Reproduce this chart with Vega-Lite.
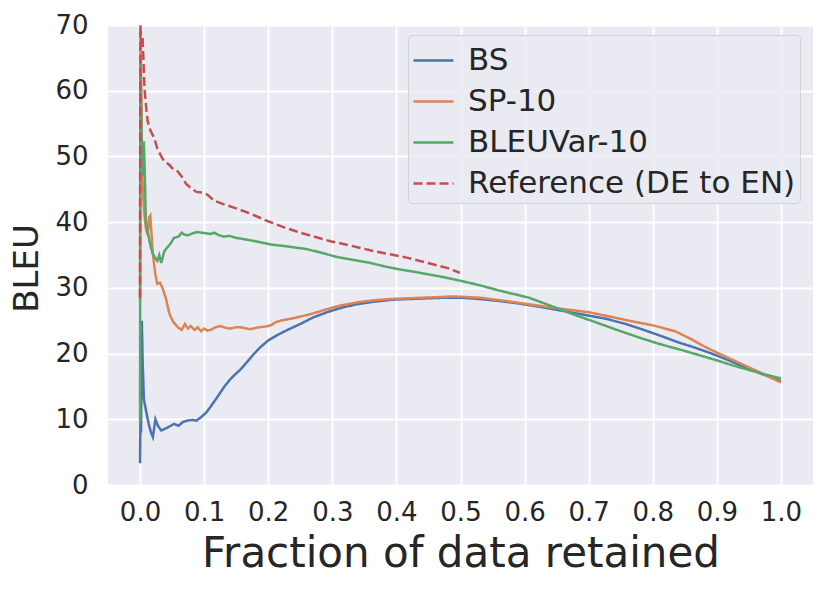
{
  "$schema": "https://vega.github.io/schema/vega-lite/v6.json",
  "width": 705,
  "height": 460,
  "autosize": "none",
  "padding": {"left": 108, "top": 25, "right": 17, "bottom": 109},
  "background": "white",
  "data": {
    "values": [
      {"s": "BS", "x": 0.0, "y": 3.3}, {"s": "BS", "x": 0.0008, "y": 12}, {"s": "BS", "x": 0.0015, "y": 8},
      {"s": "BS", "x": 0.0028, "y": 25}, {"s": "BS", "x": 0.004, "y": 19}, {"s": "BS", "x": 0.006, "y": 13},
      {"s": "BS", "x": 0.009, "y": 11.5}, {"s": "BS", "x": 0.013, "y": 9.5}, {"s": "BS", "x": 0.017, "y": 8},
      {"s": "BS", "x": 0.02, "y": 7.3}, {"s": "BS", "x": 0.024, "y": 10.0}, {"s": "BS", "x": 0.028, "y": 9.0},
      {"s": "BS", "x": 0.033, "y": 8.3}, {"s": "BS", "x": 0.04, "y": 8.6}, {"s": "BS", "x": 0.046, "y": 8.9},
      {"s": "BS", "x": 0.053, "y": 9.3}, {"s": "BS", "x": 0.06, "y": 9.0}, {"s": "BS", "x": 0.067, "y": 9.6},
      {"s": "BS", "x": 0.074, "y": 9.8}, {"s": "BS", "x": 0.082, "y": 9.9}, {"s": "BS", "x": 0.088, "y": 9.8},
      {"s": "BS", "x": 0.095, "y": 10.3}, {"s": "BS", "x": 0.103, "y": 11.0}, {"s": "BS", "x": 0.11, "y": 11.9},
      {"s": "BS", "x": 0.12, "y": 13.3}, {"s": "BS", "x": 0.131, "y": 14.9}, {"s": "BS", "x": 0.14, "y": 16.0},
      {"s": "BS", "x": 0.148, "y": 16.8}, {"s": "BS", "x": 0.157, "y": 17.6}, {"s": "BS", "x": 0.165, "y": 18.5},
      {"s": "BS", "x": 0.172, "y": 19.3}, {"s": "BS", "x": 0.18, "y": 20.2}, {"s": "BS", "x": 0.188, "y": 21.0},
      {"s": "BS", "x": 0.2, "y": 22.0}, {"s": "BS", "x": 0.214, "y": 22.8}, {"s": "BS", "x": 0.23, "y": 23.6},
      {"s": "BS", "x": 0.25, "y": 24.5}, {"s": "BS", "x": 0.27, "y": 25.5}, {"s": "BS", "x": 0.292, "y": 26.3},
      {"s": "BS", "x": 0.315, "y": 27.0}, {"s": "BS", "x": 0.338, "y": 27.5}, {"s": "BS", "x": 0.365, "y": 27.9},
      {"s": "BS", "x": 0.395, "y": 28.2}, {"s": "BS", "x": 0.42, "y": 28.3}, {"s": "BS", "x": 0.447, "y": 28.4},
      {"s": "BS", "x": 0.475, "y": 28.5}, {"s": "BS", "x": 0.5, "y": 28.5}, {"s": "BS", "x": 0.53, "y": 28.3},
      {"s": "BS", "x": 0.56, "y": 28.0}, {"s": "BS", "x": 0.592, "y": 27.6}, {"s": "BS", "x": 0.625, "y": 27.1},
      {"s": "BS", "x": 0.659, "y": 26.5}, {"s": "BS", "x": 0.693, "y": 25.9}, {"s": "BS", "x": 0.727, "y": 25.3},
      {"s": "BS", "x": 0.758, "y": 24.5}, {"s": "BS", "x": 0.789, "y": 23.5}, {"s": "BS", "x": 0.815, "y": 22.6},
      {"s": "BS", "x": 0.84, "y": 21.7}, {"s": "BS", "x": 0.866, "y": 20.9}, {"s": "BS", "x": 0.892, "y": 20.0},
      {"s": "BS", "x": 0.918, "y": 19.0}, {"s": "BS", "x": 0.944, "y": 17.9}, {"s": "BS", "x": 0.97, "y": 16.9},
      {"s": "BS", "x": 1.0, "y": 15.8},

      {"s": "SP-10", "x": 0.0, "y": 28}, {"s": "SP-10", "x": 0.0005, "y": 69}, {"s": "SP-10", "x": 0.002, "y": 60},
      {"s": "SP-10", "x": 0.003, "y": 50}, {"s": "SP-10", "x": 0.004, "y": 45.7}, {"s": "SP-10", "x": 0.006, "y": 42},
      {"s": "SP-10", "x": 0.009, "y": 39.1}, {"s": "SP-10", "x": 0.012, "y": 38}, {"s": "SP-10", "x": 0.014, "y": 40.7},
      {"s": "SP-10", "x": 0.016, "y": 41}, {"s": "SP-10", "x": 0.018, "y": 38}, {"s": "SP-10", "x": 0.02, "y": 35.1},
      {"s": "SP-10", "x": 0.024, "y": 32}, {"s": "SP-10", "x": 0.027, "y": 30.6}, {"s": "SP-10", "x": 0.031, "y": 30.8},
      {"s": "SP-10", "x": 0.035, "y": 30.0}, {"s": "SP-10", "x": 0.04, "y": 28.5}, {"s": "SP-10", "x": 0.046, "y": 26.0},
      {"s": "SP-10", "x": 0.052, "y": 24.8}, {"s": "SP-10", "x": 0.059, "y": 24.0}, {"s": "SP-10", "x": 0.065, "y": 23.6},
      {"s": "SP-10", "x": 0.07, "y": 24.5}, {"s": "SP-10", "x": 0.075, "y": 23.8}, {"s": "SP-10", "x": 0.079, "y": 24.2},
      {"s": "SP-10", "x": 0.085, "y": 23.6}, {"s": "SP-10", "x": 0.09, "y": 24.0}, {"s": "SP-10", "x": 0.095, "y": 23.4},
      {"s": "SP-10", "x": 0.1, "y": 23.8}, {"s": "SP-10", "x": 0.105, "y": 23.5}, {"s": "SP-10", "x": 0.11, "y": 23.6},
      {"s": "SP-10", "x": 0.118, "y": 24.0}, {"s": "SP-10", "x": 0.125, "y": 24.2}, {"s": "SP-10", "x": 0.131, "y": 24.0},
      {"s": "SP-10", "x": 0.14, "y": 23.8}, {"s": "SP-10", "x": 0.15, "y": 24.0}, {"s": "SP-10", "x": 0.157, "y": 24.0},
      {"s": "SP-10", "x": 0.167, "y": 23.8}, {"s": "SP-10", "x": 0.172, "y": 23.7}, {"s": "SP-10", "x": 0.185, "y": 24.0},
      {"s": "SP-10", "x": 0.195, "y": 24.1}, {"s": "SP-10", "x": 0.204, "y": 24.3}, {"s": "SP-10", "x": 0.212, "y": 24.8},
      {"s": "SP-10", "x": 0.219, "y": 25.0}, {"s": "SP-10", "x": 0.24, "y": 25.4}, {"s": "SP-10", "x": 0.266, "y": 26.0},
      {"s": "SP-10", "x": 0.29, "y": 26.7}, {"s": "SP-10", "x": 0.312, "y": 27.3}, {"s": "SP-10", "x": 0.34, "y": 27.8},
      {"s": "SP-10", "x": 0.364, "y": 28.1}, {"s": "SP-10", "x": 0.39, "y": 28.3}, {"s": "SP-10", "x": 0.416, "y": 28.4},
      {"s": "SP-10", "x": 0.44, "y": 28.5}, {"s": "SP-10", "x": 0.468, "y": 28.6}, {"s": "SP-10", "x": 0.49, "y": 28.7},
      {"s": "SP-10", "x": 0.509, "y": 28.6}, {"s": "SP-10", "x": 0.53, "y": 28.5}, {"s": "SP-10", "x": 0.57, "y": 28.0},
      {"s": "SP-10", "x": 0.607, "y": 27.5}, {"s": "SP-10", "x": 0.65, "y": 26.9}, {"s": "SP-10", "x": 0.7, "y": 26.3},
      {"s": "SP-10", "x": 0.73, "y": 25.7}, {"s": "SP-10", "x": 0.763, "y": 25.0}, {"s": "SP-10", "x": 0.8, "y": 24.3},
      {"s": "SP-10", "x": 0.835, "y": 23.4}, {"s": "SP-10", "x": 0.86, "y": 22.2}, {"s": "SP-10", "x": 0.882, "y": 21.0},
      {"s": "SP-10", "x": 0.91, "y": 19.7}, {"s": "SP-10", "x": 0.939, "y": 18.4}, {"s": "SP-10", "x": 0.97, "y": 17.0},
      {"s": "SP-10", "x": 1.0, "y": 15.6},

      {"s": "BLEUVar-10", "x": 0.0, "y": 9.5}, {"s": "BLEUVar-10", "x": 0.0005, "y": 64.8}, {"s": "BLEUVar-10", "x": 0.002, "y": 55},
      {"s": "BLEUVar-10", "x": 0.003, "y": 50}, {"s": "BLEUVar-10", "x": 0.004, "y": 52.3}, {"s": "BLEUVar-10", "x": 0.005, "y": 47},
      {"s": "BLEUVar-10", "x": 0.006, "y": 52.3}, {"s": "BLEUVar-10", "x": 0.008, "y": 45}, {"s": "BLEUVar-10", "x": 0.009, "y": 40.2},
      {"s": "BLEUVar-10", "x": 0.012, "y": 38.5}, {"s": "BLEUVar-10", "x": 0.015, "y": 37}, {"s": "BLEUVar-10", "x": 0.017, "y": 36.1},
      {"s": "BLEUVar-10", "x": 0.02, "y": 35.2}, {"s": "BLEUVar-10", "x": 0.024, "y": 34.5}, {"s": "BLEUVar-10", "x": 0.027, "y": 34.1},
      {"s": "BLEUVar-10", "x": 0.03, "y": 35.0}, {"s": "BLEUVar-10", "x": 0.033, "y": 33.8}, {"s": "BLEUVar-10", "x": 0.038, "y": 35.6},
      {"s": "BLEUVar-10", "x": 0.043, "y": 36.2}, {"s": "BLEUVar-10", "x": 0.048, "y": 36.8}, {"s": "BLEUVar-10", "x": 0.053, "y": 37.6},
      {"s": "BLEUVar-10", "x": 0.06, "y": 37.8}, {"s": "BLEUVar-10", "x": 0.065, "y": 38.4}, {"s": "BLEUVar-10", "x": 0.069, "y": 38.1},
      {"s": "BLEUVar-10", "x": 0.075, "y": 38.0}, {"s": "BLEUVar-10", "x": 0.082, "y": 38.3}, {"s": "BLEUVar-10", "x": 0.09, "y": 38.5},
      {"s": "BLEUVar-10", "x": 0.095, "y": 38.4}, {"s": "BLEUVar-10", "x": 0.103, "y": 38.3}, {"s": "BLEUVar-10", "x": 0.11, "y": 38.2},
      {"s": "BLEUVar-10", "x": 0.116, "y": 38.4}, {"s": "BLEUVar-10", "x": 0.121, "y": 38.1}, {"s": "BLEUVar-10", "x": 0.13, "y": 37.8},
      {"s": "BLEUVar-10", "x": 0.14, "y": 37.9}, {"s": "BLEUVar-10", "x": 0.15, "y": 37.6}, {"s": "BLEUVar-10", "x": 0.157, "y": 37.5},
      {"s": "BLEUVar-10", "x": 0.18, "y": 37.1}, {"s": "BLEUVar-10", "x": 0.204, "y": 36.6}, {"s": "BLEUVar-10", "x": 0.23, "y": 36.3},
      {"s": "BLEUVar-10", "x": 0.26, "y": 35.9}, {"s": "BLEUVar-10", "x": 0.285, "y": 35.3}, {"s": "BLEUVar-10", "x": 0.307, "y": 34.7},
      {"s": "BLEUVar-10", "x": 0.33, "y": 34.3}, {"s": "BLEUVar-10", "x": 0.359, "y": 33.8}, {"s": "BLEUVar-10", "x": 0.38, "y": 33.3},
      {"s": "BLEUVar-10", "x": 0.405, "y": 32.8}, {"s": "BLEUVar-10", "x": 0.425, "y": 32.5}, {"s": "BLEUVar-10", "x": 0.447, "y": 32.1},
      {"s": "BLEUVar-10", "x": 0.47, "y": 31.7}, {"s": "BLEUVar-10", "x": 0.499, "y": 31.1}, {"s": "BLEUVar-10", "x": 0.53, "y": 30.4},
      {"s": "BLEUVar-10", "x": 0.56, "y": 29.6}, {"s": "BLEUVar-10", "x": 0.607, "y": 28.5}, {"s": "BLEUVar-10", "x": 0.64, "y": 27.3},
      {"s": "BLEUVar-10", "x": 0.675, "y": 26.0}, {"s": "BLEUVar-10", "x": 0.71, "y": 24.8}, {"s": "BLEUVar-10", "x": 0.747, "y": 23.5},
      {"s": "BLEUVar-10", "x": 0.78, "y": 22.4}, {"s": "BLEUVar-10", "x": 0.809, "y": 21.5}, {"s": "BLEUVar-10", "x": 0.85, "y": 20.4},
      {"s": "BLEUVar-10", "x": 0.892, "y": 19.2}, {"s": "BLEUVar-10", "x": 0.925, "y": 18.2}, {"s": "BLEUVar-10", "x": 0.954, "y": 17.4},
      {"s": "BLEUVar-10", "x": 1.0, "y": 16.2},

      {"s": "Reference (DE to EN)", "x": 0.0, "y": 28.5}, {"s": "Reference (DE to EN)", "x": 0.0005, "y": 70},
      {"s": "Reference (DE to EN)", "x": 0.002, "y": 67}, {"s": "Reference (DE to EN)", "x": 0.004, "y": 68},
      {"s": "Reference (DE to EN)", "x": 0.007, "y": 60.3}, {"s": "Reference (DE to EN)", "x": 0.01, "y": 57},
      {"s": "Reference (DE to EN)", "x": 0.012, "y": 55.3}, {"s": "Reference (DE to EN)", "x": 0.016, "y": 54},
      {"s": "Reference (DE to EN)", "x": 0.022, "y": 52.8}, {"s": "Reference (DE to EN)", "x": 0.027, "y": 51.2},
      {"s": "Reference (DE to EN)", "x": 0.033, "y": 50.0}, {"s": "Reference (DE to EN)", "x": 0.038, "y": 49.2},
      {"s": "Reference (DE to EN)", "x": 0.045, "y": 48.8}, {"s": "Reference (DE to EN)", "x": 0.052, "y": 48.0},
      {"s": "Reference (DE to EN)", "x": 0.059, "y": 47.7}, {"s": "Reference (DE to EN)", "x": 0.066, "y": 46.8},
      {"s": "Reference (DE to EN)", "x": 0.072, "y": 45.8}, {"s": "Reference (DE to EN)", "x": 0.079, "y": 45.2},
      {"s": "Reference (DE to EN)", "x": 0.088, "y": 44.6}, {"s": "Reference (DE to EN)", "x": 0.097, "y": 44.5},
      {"s": "Reference (DE to EN)", "x": 0.105, "y": 44.2}, {"s": "Reference (DE to EN)", "x": 0.115, "y": 43.3},
      {"s": "Reference (DE to EN)", "x": 0.131, "y": 42.7}, {"s": "Reference (DE to EN)", "x": 0.15, "y": 42.1},
      {"s": "Reference (DE to EN)", "x": 0.172, "y": 41.3}, {"s": "Reference (DE to EN)", "x": 0.198, "y": 40.2},
      {"s": "Reference (DE to EN)", "x": 0.225, "y": 39.2}, {"s": "Reference (DE to EN)", "x": 0.25, "y": 38.4},
      {"s": "Reference (DE to EN)", "x": 0.275, "y": 37.7}, {"s": "Reference (DE to EN)", "x": 0.297, "y": 37.1},
      {"s": "Reference (DE to EN)", "x": 0.33, "y": 36.4}, {"s": "Reference (DE to EN)", "x": 0.364, "y": 35.6},
      {"s": "Reference (DE to EN)", "x": 0.39, "y": 35.1}, {"s": "Reference (DE to EN)", "x": 0.416, "y": 34.6},
      {"s": "Reference (DE to EN)", "x": 0.44, "y": 34.0}, {"s": "Reference (DE to EN)", "x": 0.457, "y": 33.6},
      {"s": "Reference (DE to EN)", "x": 0.48, "y": 33.0}, {"s": "Reference (DE to EN)", "x": 0.499, "y": 32.3}
    ]
  },
  "mark": {"type": "line", "strokeWidth": 2.5, "clip": true},
  "encoding": {
    "x": {
      "field": "x",
      "type": "quantitative",
      "title": "Fraction of data retained",
      "scale": {"domain": [-0.05, 1.05], "nice": false, "zero": false},
      "axis": {
        "values": [0, 0.1, 0.2, 0.3, 0.4, 0.5, 0.6, 0.7, 0.8, 0.9, 1.0],
        "format": ".1f",
        "labelPadding": 14,
        "titleFontSize": 42,
        "titlePadding": 8
      }
    },
    "y": {
      "field": "y",
      "type": "quantitative",
      "title": "BLEU",
      "scale": {"domain": [0, 70], "nice": false},
      "axis": {
        "values": [0, 10, 20, 30, 40, 50, 60, 70],
        "labelPadding": 20,
        "titleFontSize": 34,
        "titleX": -81,
        "titleY": 243,
        "titleAngle": 270,
        "titleAlign": "center",
        "titleBaseline": "middle"
      }
    },
    "color": {
      "field": "s",
      "type": "nominal",
      "title": null,
      "scale": {
        "domain": ["BS", "SP-10", "BLEUVar-10", "Reference (DE to EN)"],
        "range": ["#4C72B0", "#DD8452", "#55A868", "#C44E52"]
      }
    },
    "strokeDash": {
      "field": "s",
      "type": "nominal",
      "title": null,
      "scale": {
        "domain": ["BS", "SP-10", "BLEUVar-10", "Reference (DE to EN)"],
        "range": [[1, 0], [1, 0], [1, 0], [9, 4]]
      }
    }
  },
  "config": {
    "font": "DejaVu Sans",
    "view": {"fill": "#EAEAF2", "stroke": null},
    "axis": {
      "grid": true,
      "gridColor": "#FFFFFF",
      "gridWidth": 1.8,
      "domain": false,
      "ticks": false,
      "labelFont": "DejaVu Sans",
      "labelFontSize": 26,
      "labelColor": "#262626",
      "titleFont": "DejaVu Sans",
      "titleFontWeight": "normal",
      "titleColor": "#262626"
    },
    "legend": {
      "orient": "none",
      "legendX": 300,
      "legendY": 10,
      "padding": 4,
      "fillColor": "rgba(234,234,242,0.8)",
      "strokeColor": "rgba(204,204,204,0.8)",
      "cornerRadius": 4,
      "symbolType": "stroke",
      "symbolSize": 1600,
      "symbolStrokeWidth": 2.5,
      "labelFont": "DejaVu Sans",
      "labelFontSize": 31,
      "labelColor": "#262626",
      "labelLimit": 500,
      "labelOffset": 13,
      "rowPadding": 4
    }
  }
}
